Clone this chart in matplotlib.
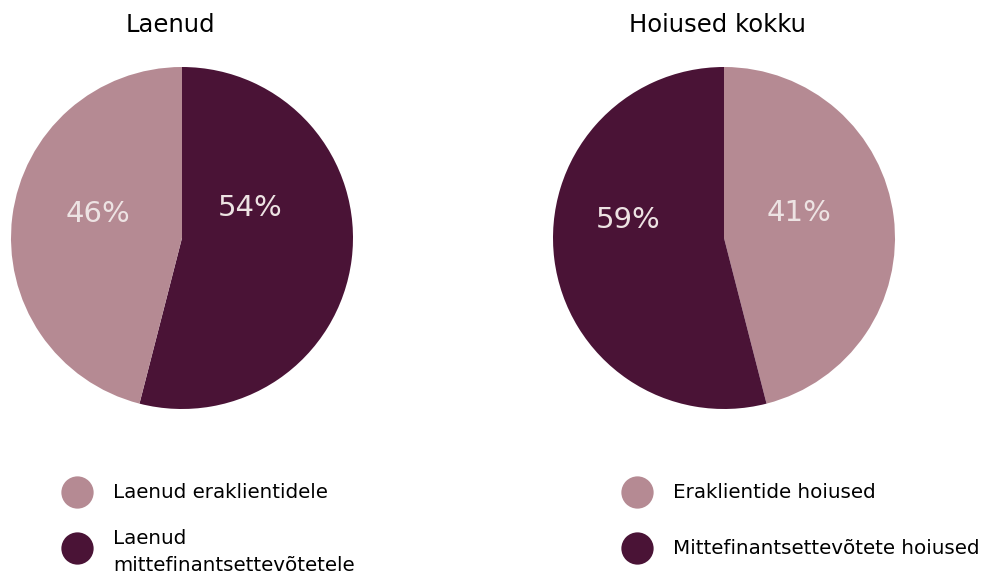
import matplotlib
matplotlib.use('Agg')
import matplotlib.pyplot as plt

light = '#B58A93'
dark = '#4A1336'
label_col = '#EDE3E3'

titles = ['Laenud', 'Hoiused kokku']
# drawn shares (clockwise from 12 o'clock) and printed labels
loan_shares = [54, 46]          # dark, light
loan_labels = ['54%', '46%']
dep_shares = [46, 54]           # light, dark (as drawn)
dep_labels = ['41%', '59%']
loan_legend = ['Laenud eraklientidele', 'Laenud\nmittefinantsettevõtetele']
dep_legend = ['Eraklientide hoiused', 'Mittefinantsettevõtete hoiused']

plt.rcParams['font.family'] = ['DejaVu Sans']

W, H = 982, 575
fig = plt.figure(figsize=(W / 100, H / 100), dpi=100)

def px_axes(x0, y0, w, h):
    return fig.add_axes([x0 / W, 1 - (y0 + h) / H, w / W, h / H])

ax1 = px_axes(11, 67, 342, 342)
ax1.pie(loan_shares, colors=[dark, light], startangle=90, counterclock=False,
        radius=1)
ax1.set_xlim(-1, 1); ax1.set_ylim(-1, 1)
ax1.text(0.40, 0.175, loan_labels[0], color=label_col, fontsize=21,
         ha='center', va='center')
ax1.text(-0.49, 0.14, loan_labels[1], color=label_col, fontsize=21,
         ha='center', va='center')

ax2 = px_axes(553, 67, 342, 342)
ax2.pie(dep_shares, colors=[light, dark], startangle=90, counterclock=False,
        radius=1)
ax2.set_xlim(-1, 1); ax2.set_ylim(-1, 1)
ax2.text(0.44, 0.146, dep_labels[0], color=label_col, fontsize=21,
         ha='center', va='center')
ax2.text(-0.56, 0.105, dep_labels[1], color=label_col, fontsize=21,
         ha='center', va='center')

# overlay for titles and legends, pixel coordinates
ov = fig.add_axes([0, 0, 1, 1], zorder=-1)
ov.set_xlim(0, W); ov.set_ylim(H, 0); ov.axis('off')

ov.text(170, 25, titles[0], fontsize=17.5, ha='center', va='center')
ov.text(718, 25, titles[1], fontsize=17.5, ha='center', va='center')

for x0, items in [(77, loan_legend), (637, dep_legend)]:
    for i, (lab, col) in enumerate(zip(items, [light, dark])):
        y = 492 + 56 * i
        ov.scatter([x0], [y], s=540, color=col, linewidths=0)
        dy = 4 if '\n' in lab else 1
        ov.text(x0 + 36, y + dy, lab, fontsize=14.3, ha='left', va='center',
                linespacing=1.5)

fig.savefig('out.png', dpi=100)
